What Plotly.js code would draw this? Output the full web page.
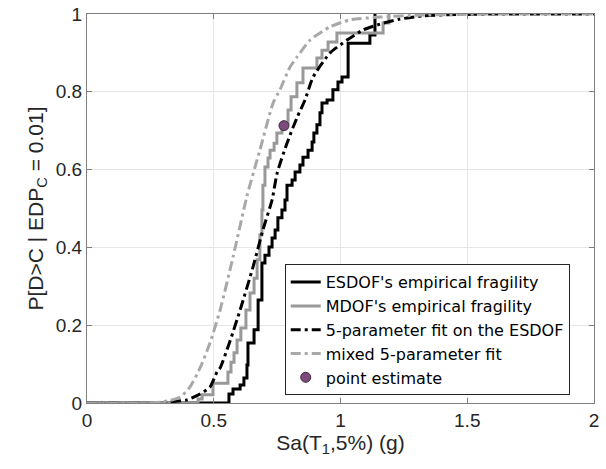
<!DOCTYPE html>
<html>
<head>
<meta charset="utf-8">
<script src="https://cdn.plot.ly/plotly-3.0.1.min.js"></script>
<style>html,body{margin:0;padding:0;background:#fff;}#chart{width:606px;height:469px;}</style>
</head>
<body>
<div id="chart"></div>
<script>
// ESDOF empirical fragility (step points)
const esdofX = [0, 0.560, 0.576, 0.604, 0.619, 0.631, 0.635, 0.659, 0.675, 0.690, 0.702, 0.718, 0.730, 0.742, 0.753, 0.769, 0.781, 0.789, 0.809, 0.821, 0.840, 0.852, 0.872, 0.888, 0.895, 0.907, 0.919, 0.927, 0.947, 0.970, 0.990, 1.006, 1.030, 1.116, 1.136];
const esdofY = [0, 0.023, 0.036, 0.046, 0.064, 0.098, 0.154, 0.188, 0.265, 0.360, 0.380, 0.401, 0.424, 0.445, 0.476, 0.496, 0.522, 0.560, 0.573, 0.594, 0.612, 0.632, 0.650, 0.671, 0.694, 0.715, 0.746, 0.771, 0.779, 0.805, 0.825, 0.838, 0.925, 0.946, 1.0];
// MDOF empirical fragility (step points)
const mdofX = [0, 0.438, 0.454, 0.497, 0.556, 0.568, 0.580, 0.592, 0.607, 0.627, 0.643, 0.659, 0.671, 0.682, 0.690, 0.694, 0.702, 0.714, 0.722, 0.738, 0.749, 0.769, 0.793, 0.805, 0.828, 0.852, 0.907, 0.927, 0.951, 0.986, 1.168, 1.191];
const mdofY = [0, 0.010, 0.021, 0.051, 0.080, 0.105, 0.129, 0.162, 0.193, 0.239, 0.283, 0.321, 0.368, 0.432, 0.496, 0.560, 0.607, 0.630, 0.650, 0.668, 0.694, 0.720, 0.753, 0.787, 0.823, 0.861, 0.887, 0.907, 0.928, 0.951, 0.977, 1.0];
// 5-parameter fit on the ESDOF
const fitEX = [0, 0.249, 0.327, 0.394, 0.446, 0.485, 0.513, 0.525, 0.564, 0.604, 0.655, 0.694, 0.730, 0.750, 0.789, 0.828, 0.860, 0.892, 0.959, 1.026, 1.089, 1.156, 1.235, 1.325, 1.420, 1.63, 2.0];
const fitEY = [0, 0, 0.003, 0.008, 0.023, 0.041, 0.080, 0.090, 0.159, 0.239, 0.350, 0.445, 0.522, 0.591, 0.668, 0.733, 0.779, 0.838, 0.900, 0.933, 0.959, 0.974, 0.987, 0.995, 0.998, 1.0, 1.0];
// mixed 5-parameter fit
const fitMX = [0, 0.209, 0.300, 0.367, 0.406, 0.446, 0.485, 0.525, 0.576, 0.631, 0.682, 0.734, 0.761, 0.801, 0.828, 0.880, 0.959, 1.037, 1.156, 1.314, 1.63, 2.0];
const fitMY = [0, 0, 0.003, 0.015, 0.041, 0.090, 0.154, 0.239, 0.375, 0.532, 0.650, 0.771, 0.805, 0.864, 0.889, 0.933, 0.967, 0.985, 0.992, 0.997, 1.0, 1.0];
// point estimate
const ptX = [0.777];
const ptY = [0.713];

const FONT = 'Liberation Sans, Arial, Helvetica, sans-serif';

const traces = [
  {x: esdofX, y: esdofY, mode: 'lines', line: {shape: 'hv', color: '#000000', width: 3}, name: "ESDOF's empirical fragility"},
  {x: mdofX, y: mdofY, mode: 'lines', line: {shape: 'hv', color: '#999999', width: 3}, name: "MDOF's empirical fragility"},
  {x: fitEX, y: fitEY, mode: 'lines', line: {shape: 'spline', smoothing: 0.6, color: '#000000', width: 3, dash: '10px,4px,3px,4px'}, name: '5-parameter fit on the ESDOF'},
  {x: fitMX, y: fitMY, mode: 'lines', line: {shape: 'spline', smoothing: 0.6, color: '#a8a8a8', width: 3, dash: '10px,4px,3px,4px'}, name: 'mixed 5-parameter fit'},
  {x: ptX, y: ptY, mode: 'markers', marker: {color: '#7e4a7e', size: 10, line: {color: '#3a2a3a', width: 1}}, name: 'point estimate'}
];

const axisCommon = {
  showline: true, mirror: 'ticks', linecolor: '#7f7f7f', linewidth: 1,
  ticks: 'inside', ticklen: 5, tickcolor: '#7f7f7f',
  showgrid: true, gridcolor: '#e6e6e6', gridwidth: 1, zeroline: false,
  tickfont: {family: FONT, size: 19, color: '#262626'}
};

const layout = {
  width: 606, height: 469,
  margin: {l: 87, r: 12, t: 14, b: 66},
  paper_bgcolor: '#ffffff', plot_bgcolor: '#ffffff',
  showlegend: true,
  xaxis: Object.assign({}, axisCommon, {
    range: [0, 2], tickvals: [0, 0.5, 1, 1.5, 2], ticktext: ['0', '0.5', '1', '1.5', '2'],
    title: {text: 'Sa(T<sub>1</sub>,5%) (g)', font: {family: FONT, size: 21, color: '#262626'}, standoff: 2}
  }),
  yaxis: Object.assign({}, axisCommon, {
    range: [0, 1], tickvals: [0, 0.2, 0.4, 0.6, 0.8, 1], ticktext: ['0', '0.2', '0.4', '0.6', '0.8', '1'],
    title: {text: 'P[D>C | EDP<sub>C</sub> = 0.01]', font: {family: FONT, size: 21, color: '#262626'}, standoff: 6}
  }),
  legend: {
    x: 0.39, y: 0.02, xanchor: 'left', yanchor: 'bottom',
    bgcolor: '#ffffff', bordercolor: '#262626', borderwidth: 1,
    font: {family: 'DejaVu Sans, sans-serif', size: 16, color: '#000000'},
    tracegroupgap: 0, itemwidth: 30
  }
};

Plotly.newPlot('chart', traces, layout, {staticPlot: true, displayModeBar: false});
</script>
</body>
</html>
